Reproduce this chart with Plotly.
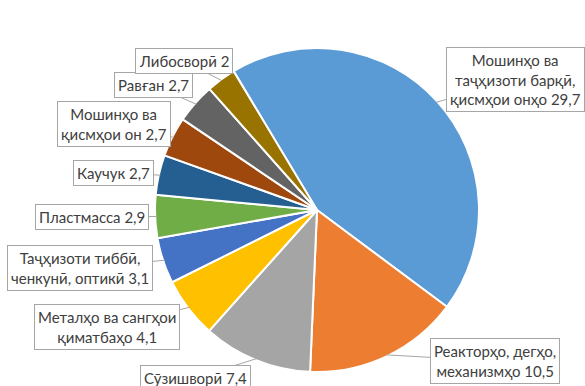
import math
import plotly.graph_objects as go

# Share of exports by commodity group, %
categories = [
    "Мошинҳо ва<br>таҷҳизоти барқӣ,<br>қисмҳои онҳо",
    "Реакторҳо, дегҳо,<br>механизмҳо",
    "Сӯзишворӣ",
    "Металҳо ва сангҳои<br>қиматбаҳо",
    "Таҷҳизоти тиббӣ,<br>ченкунӣ, оптикӣ",
    "Пластмасса",
    "Каучук",
    "Мошинҳо ва<br>қисмҳои он",
    "Равған",
    "Либосворӣ",
]
values = [29.7, 10.5, 7.4, 4.1, 3.1, 2.9, 2.7, 2.7, 2.7, 2]
colors = ["#5B9BD5", "#ED7D31", "#A5A5A5", "#FFC000", "#4472C4",
          "#70AD47", "#255E91", "#9E480E", "#636363", "#997300"]

# Callout box centres in pixels (figure is 585 x 386, no margins)
box_centres = [(515, 80), (495, 361), (195, 378), (107, 327), (80, 268),
               (92, 217), (113, 173), (114, 124), (153, 85), (184, 61)]

W, H = 585, 386
CX, CY, R = 317, 210, 162
ROTATION = -31

fig = go.Figure(go.Pie(
    labels=categories,
    values=values,
    sort=False,
    direction="clockwise",
    rotation=ROTATION,
    marker=dict(colors=colors, line=dict(color="white", width=2)),
    textinfo="none",
    hoverinfo="label+value",
    showlegend=False,
    domain=dict(x=[(CX - R) / W, (CX + R) / W], y=[1 - (CY + R) / H, 1 - (CY - R) / H]),
))

def fmt(v):
    return f"{v:g}".replace(".", ",")

total = sum(values)
angle = ROTATION
annotations = []
for cat, v, (bx, by) in zip(categories, values, box_centres):
    span = v / total * 360
    mid = math.radians(angle + span / 2)
    angle += span
    tx = CX + R * 0.99 * math.sin(mid)
    ty = CY - R * 0.99 * math.cos(mid)
    annotations.append(dict(
        x=tx / W, y=1 - ty / H, xref="paper", yref="paper",
        ax=bx - tx, ay=by - ty,
        text=f"{cat} {fmt(v)}",
        showarrow=True, arrowhead=0, arrowwidth=1, arrowcolor="#A6A6A6",
        bgcolor="white", bordercolor="#A6A6A6", borderwidth=1, borderpad=3,
        font=dict(family="Lato", size=15, color="#404040"),
        align="center",
    ))

fig.update_layout(
    width=W, height=H,
    margin=dict(l=0, r=0, t=0, b=0),
    paper_bgcolor="white",
    plot_bgcolor="white",
    annotations=annotations,
)

fig.write_html("out.html")
